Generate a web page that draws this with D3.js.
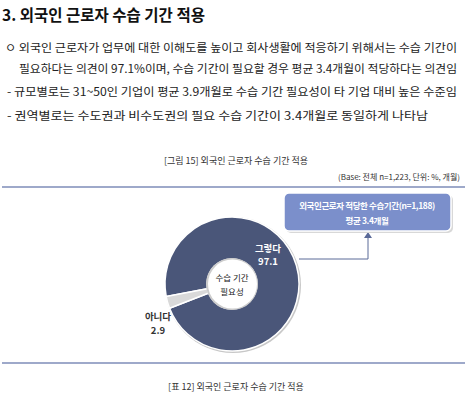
<!DOCTYPE html>
<html><head><meta charset="utf-8">
<script src="https://cdn.jsdelivr.net/npm/d3@7"></script>
<style>body{margin:0;background:#fff;font-family:"Noto Sans CJK KR",sans-serif;}</style>
</head><body>
<script>
const labels = ["그렇다", "아니다"];
const values = [97.1, 2.9];
const colors = ["#4a5679", "#d9d9d9"];
const bodyLines = [
  {x: 5, y: 52, w: 452, t: "ㅇ 외국인 근로자가 업무에 대한 이해도를 높이고 회사생활에 적응하기 위해서는 수습 기간이"},
  {x: 19, y: 73, w: 438, t: "필요하다는 의견이 97.1%이며, 수습 기간이 필요할 경우 평균 3.4개월이 적당하다는 의견임"},
  {x: 7, y: 96, w: 450, t: "- 규모별로는 31~50인 기업이 평균 3.9개월로 수습 기간 필요성이 타 기업 대비 높은 수준임"},
  {x: 7, y: 120, w: 421, t: "- 권역별로는 수도권과 비수도권의 필요 수습 기간이 3.4개월로 동일하게 나타남"}
];

const W = 472, H = 402;
const svg = d3.select("body").append("svg").attr("width", W).attr("height", H);

svg.append("text").attr("x", 2).attr("y", 21).attr("font-size", 15.5).attr("font-weight", "bold")
  .attr("fill", "#111").text("3. 외국인 근로자 수습 기간 적용");

bodyLines.forEach(l => {
  svg.append("text").attr("x", l.x).attr("y", l.y).attr("font-size", 11.6)
    .attr("fill", "#222").attr("textLength", l.w)
    .attr("lengthAdjust", "spacingAndGlyphs").text(l.t);
});

svg.append("text").attr("x", 236).attr("y", 164).attr("text-anchor", "middle")
  .attr("font-size", 9).attr("fill", "#333").text("[그림 15] 외국인 근로자 수습 기간 적용");
svg.append("text").attr("x", 460).attr("y", 180).attr("text-anchor", "end")
  .attr("font-size", 8).attr("fill", "#333").text("(Base: 전체 n=1,223, 단위: %, 개월)");

svg.append("line").attr("x1", 2).attr("x2", 465).attr("y1", 187).attr("y2", 187)
  .attr("stroke", "#3f5596").attr("stroke-width", 1.2);
svg.append("line").attr("x1", 2).attr("x2", 465).attr("y1", 363).attr("y2", 363)
  .attr("stroke", "#3f5596").attr("stroke-width", 1.2);

// donut
const cx = 232, cy = 284, rOut = 67, rIn = 25;
const startA = (254 + 0.5 * 360 * values[1] / 100) * Math.PI / 180 - 2 * Math.PI;
const pie = d3.pie().sort(null).value(d => d)
  .startAngle(startA).endAngle(startA + 2 * Math.PI);
const arc = d3.arc().innerRadius(rIn).outerRadius(rOut);
const g = svg.append("g").attr("transform", `translate(${cx},${cy})`);
g.append("circle").attr("r", rOut + 1).attr("cx", 1).attr("cy", 1).attr("fill", "#c8c8c8");
g.selectAll("path").data(pie(values)).join("path")
  .attr("d", arc).attr("fill", (d, i) => colors[i])
  .attr("stroke", "#fff").attr("stroke-width", 1.5);
g.append("circle").attr("r", rIn + 1).attr("fill", "#ccc");
g.append("circle").attr("r", rIn - 0.5).attr("cx", 0.5).attr("fill", "#fff");
g.append("text").attr("y", -3).attr("text-anchor", "middle").attr("font-size", 8.5).attr("fill", "#222").text("수습 기간");
g.append("text").attr("y", 11).attr("text-anchor", "middle").attr("font-size", 8.5).attr("fill", "#222").text("필요성");

svg.append("text").attr("x", 268).attr("y", 252).attr("text-anchor", "middle").attr("font-size", 9.5)
  .attr("font-weight", "bold").attr("fill", "#fff").text(labels[0]);
svg.append("text").attr("x", 268).attr("y", 265).attr("text-anchor", "middle").attr("font-size", 9.5)
  .attr("font-weight", "bold").attr("fill", "#fff").text(values[0]);
svg.append("text").attr("x", 158).attr("y", 320).attr("text-anchor", "middle").attr("font-size", 9.5)
  .attr("font-weight", "bold").attr("fill", "#333").text(labels[1]);
svg.append("text").attr("x", 158).attr("y", 334).attr("text-anchor", "middle").attr("font-size", 9.5)
  .attr("font-weight", "bold").attr("fill", "#333").text(values[1]);

// callout
svg.append("path").attr("d", "M299,259 H368 V236").attr("fill", "none").attr("stroke", "#5a6a98").attr("stroke-width", 1);
svg.append("path").attr("d", "M364,238 L368,232 L372,238 Z").attr("fill", "#5a6a98");
svg.append("rect").attr("x", 286).attr("y", 195).attr("width", 167).attr("height", 38).attr("rx", 5)
  .attr("fill", "#d8d8d8");
svg.append("rect").attr("x", 284).attr("y", 193).attr("width", 167).attr("height", 38).attr("rx", 5)
  .attr("fill", "#7b8fcb").attr("stroke", "#fff").attr("stroke-width", 1.5);
svg.append("text").attr("x", 367).attr("y", 209).attr("text-anchor", "middle").attr("font-size", 8.5)
  .attr("font-weight", "bold").attr("fill", "#fff").attr("letter-spacing", -0.4).text("외국인근로자 적당한 수습기간(n=1,188)");
svg.append("text").attr("x", 367).attr("y", 224).attr("text-anchor", "middle").attr("font-size", 8.5)
  .attr("font-weight", "bold").attr("fill", "#fff").attr("letter-spacing", -0.4).text("평균 3.4개월");

svg.append("text").attr("x", 236).attr("y", 390).attr("text-anchor", "middle")
  .attr("font-size", 9).attr("fill", "#333").text("[표 12] 외국인 근로자 수습 기간 적용");
</script>
</body></html>
